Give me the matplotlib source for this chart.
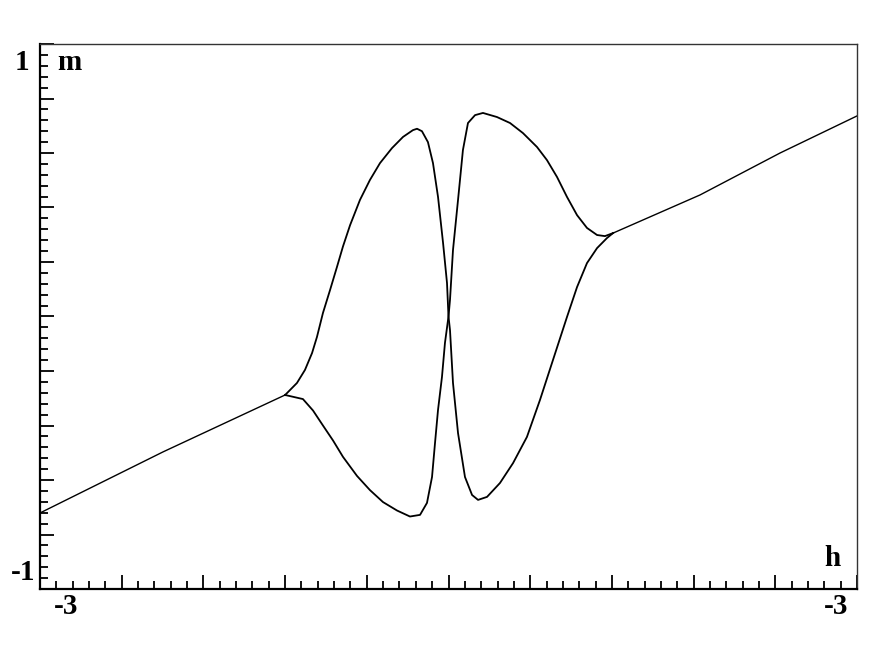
import matplotlib
matplotlib.use("Agg")
import matplotlib.pyplot as plt
from matplotlib.ticker import MultipleLocator

# outer straight branches (h, m)
left_h = [-3.0, -2.097, -1.20]
left_m = [-0.721, -0.497, -0.288]
right_h = [1.208, 1.847, 2.435, 3.0]
right_m = [0.306, 0.446, 0.600, 0.736]

# branch A: upper-left hump, through the origin, lower-right dip
a_h = [-1.20, -1.186, -1.113, -1.054, -1.002, -0.966, -0.922, -0.870, -0.819, -0.775,
       -0.723, -0.650, -0.577, -0.503, -0.415, -0.334, -0.261, -0.231, -0.195, -0.151,
       -0.114, -0.077, -0.040, -0.011, 0.0, 0.011, 0.033, 0.070, 0.121, 0.173,
       0.217, 0.283, 0.378, 0.474, 0.576, 0.672, 0.767, 0.870, 0.944, 1.017,
       1.091, 1.164, 1.208]
a_m = [-0.288, -0.281, -0.244, -0.196, -0.134, -0.075, 0.013, 0.097, 0.182, 0.257,
       0.335, 0.428, 0.501, 0.563, 0.618, 0.659, 0.684, 0.689, 0.680, 0.640,
       0.563, 0.439, 0.270, 0.123, 0.0, -0.050, -0.244, -0.428, -0.589, -0.655,
       -0.673, -0.662, -0.611, -0.538, -0.442, -0.306, -0.160, -0.002, 0.108, 0.196,
       0.251, 0.288, 0.306]

# branch B: lower-left dip, through the origin, upper-right hump
b_h = [-1.20, -1.069, -0.995, -0.922, -0.848, -0.775, -0.672, -0.577, -0.481, -0.378,
       -0.283, -0.209, -0.158, -0.121, -0.099, -0.077, -0.048, -0.026, 0.0, 0.011,
       0.033, 0.070, 0.106, 0.143, 0.195, 0.253, 0.356, 0.452, 0.547, 0.650,
       0.723, 0.797, 0.870, 0.944, 1.017, 1.091, 1.149, 1.208]
b_m = [-0.288, -0.303, -0.345, -0.400, -0.455, -0.515, -0.585, -0.637, -0.681, -0.712,
       -0.734, -0.728, -0.684, -0.589, -0.464, -0.343, -0.222, -0.097, 0.0, 0.061,
       0.244, 0.428, 0.611, 0.710, 0.739, 0.747, 0.732, 0.710, 0.673, 0.622,
       0.574, 0.512, 0.439, 0.372, 0.325, 0.299, 0.295, 0.306]

W, H = 872, 654
fig = plt.figure(figsize=(W / 100, H / 100), dpi=100)
ax = fig.add_axes([40 / W, 1 - 589 / H, 817 / W, 545 / H])

ax.plot(left_h, left_m, color="black", lw=1.0)
ax.plot(right_h, right_m, color="black", lw=1.0)
ax.plot(a_h, a_m, color="black", lw=1.3, solid_joinstyle="round")
ax.plot(b_h, b_m, color="black", lw=1.3, solid_joinstyle="round")

ax.set_xlim(-3, 3)
ax.set_ylim(-1, 1)
ax.xaxis.set_major_locator(MultipleLocator(0.6))
ax.xaxis.set_minor_locator(MultipleLocator(0.12))
ax.yaxis.set_major_locator(MultipleLocator(0.2))
ax.yaxis.set_minor_locator(MultipleLocator(0.04))
ax.tick_params(which="both", direction="in", top=False, right=False,
               labelbottom=False, labelleft=False, color="black", width=1.3)
ax.tick_params(which="major", length=10)
ax.tick_params(which="minor", length=5.5)

for side in ["left", "bottom"]:
    ax.spines[side].set_linewidth(1.6)
    ax.spines[side].set_color("black")
for side in ["top", "right"]:
    ax.spines[side].set_linewidth(1.0)
    ax.spines[side].set_color("#333333")

font = dict(family="Liberation Serif", weight="bold", fontsize=21,
            ha="center", va="center")
fig.text(22 / W, 1 - 63 / H, "1", **font)
fig.text(69 / W, 1 - 63 / H, "m", **font)
fig.text(23 / W, 1 - 572 / H, "-1", **font)
fig.text(832 / W, 1 - 558 / H, "h", **font)
fig.text(66 / W, 1 - 607 / H, "-3", **font)
fig.text(836 / W, 1 - 607 / H, "-3", **font)

fig.savefig("out.png", dpi=100)
